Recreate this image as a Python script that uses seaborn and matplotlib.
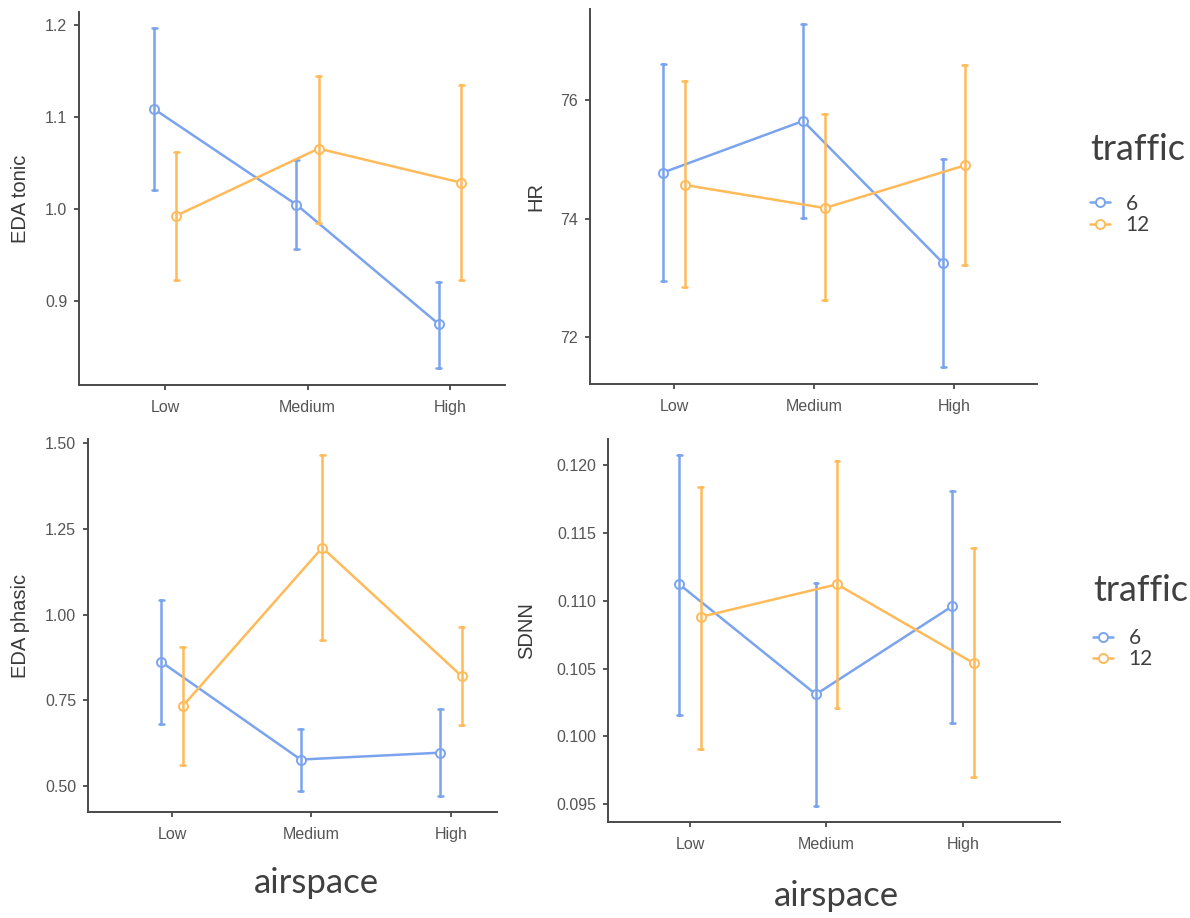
import numpy as np
import pandas as pd
import matplotlib
matplotlib.use("Agg")
import matplotlib.pyplot as plt
from matplotlib.lines import Line2D
from matplotlib.ticker import FormatStrFormatter
import seaborn as sns

# ---------------- data ----------------
airspace = ["Low", "Medium", "High"]
traffic = ["6", "12"]

eda_tonic_mean_6 = [1.109, 1.005, 0.875]
eda_tonic_lo_6 = [1.021, 0.957, 0.828]
eda_tonic_hi_6 = [1.197, 1.054, 0.921]
eda_tonic_mean_12 = [0.993, 1.066, 1.029]
eda_tonic_lo_12 = [0.923, 0.985, 0.923]
eda_tonic_hi_12 = [1.062, 1.145, 1.135]

hr_mean_6 = [74.78, 75.65, 73.25]
hr_lo_6 = [72.95, 74.02, 71.49]
hr_hi_6 = [76.61, 77.29, 75.01]
hr_mean_12 = [74.57, 74.18, 74.90]
hr_lo_12 = [72.85, 72.62, 73.22]
hr_hi_12 = [76.32, 75.77, 76.59]

eda_phasic_mean_6 = [0.862, 0.577, 0.597]
eda_phasic_lo_6 = [0.682, 0.486, 0.472]
eda_phasic_hi_6 = [1.042, 0.667, 0.724]
eda_phasic_mean_12 = [0.733, 1.195, 0.820]
eda_phasic_lo_12 = [0.562, 0.926, 0.677]
eda_phasic_hi_12 = [0.906, 1.466, 0.963]

sdnn_mean_6 = [0.1112, 0.1031, 0.1096]
sdnn_lo_6 = [0.1016, 0.0949, 0.1010]
sdnn_hi_6 = [0.1207, 0.1113, 0.1181]
sdnn_mean_12 = [0.1088, 0.1112, 0.1054]
sdnn_lo_12 = [0.0991, 0.1021, 0.0970]
sdnn_hi_12 = [0.1184, 0.1203, 0.1139]

ylabels = ["EDA tonic", "HR", "EDA phasic", "SDNN"]
yticks_list = [
    [0.9, 1.0, 1.1, 1.2],
    [72, 74, 76],
    [0.50, 0.75, 1.00, 1.25, 1.50],
    [0.095, 0.100, 0.105, 0.110, 0.115, 0.120],
]
ytick_fmt = ["%.1f", "%.0f", "%.2f", "%.3f"]

palette = {"6": "#7BA4EF", "12": "#FFBA59"}


def long_frame(m6, lo6, hi6, m12, lo12, hi12):
    rows = []
    for t, (m, lo, hi) in zip(traffic, [(m6, lo6, hi6), (m12, lo12, hi12)]):
        for i, a in enumerate(airspace):
            for v in (lo[i], m[i], hi[i]):
                rows.append({"airspace": a, "traffic": t, "value": v})
    return pd.DataFrame(rows)


frames = [
    long_frame(eda_tonic_mean_6, eda_tonic_lo_6, eda_tonic_hi_6,
               eda_tonic_mean_12, eda_tonic_lo_12, eda_tonic_hi_12),
    long_frame(hr_mean_6, hr_lo_6, hr_hi_6, hr_mean_12, hr_lo_12, hr_hi_12),
    long_frame(eda_phasic_mean_6, eda_phasic_lo_6, eda_phasic_hi_6,
               eda_phasic_mean_12, eda_phasic_lo_12, eda_phasic_hi_12),
    long_frame(sdnn_mean_6, sdnn_lo_6, sdnn_hi_6,
               sdnn_mean_12, sdnn_lo_12, sdnn_hi_12),
]

# ---------------- style ----------------
sns.set_theme(style="ticks")
plt.rcParams["font.family"] = ["Liberation Sans", "DejaVu Sans"]

W, H = 1190, 918
fig = plt.figure(figsize=(W / 100, H / 100), dpi=100)

# axes boxes in pixels: left, top, right, bottom
boxes = [
    (79, 12, 505, 385),
    (590, 9, 1037, 384),
    (88, 439, 497, 812),
    (608, 439, 1060, 822),
]
xlims = [(-0.604, 2.386), (-0.6, 2.593), (-0.602, 2.33), (-0.6, 2.71)]
ylims = [(0.809, 1.2145), (71.21, 77.54), (0.424, 1.512), (0.0937, 0.1219)]
labelpads = [10.5, 10.5, 10.5, 14.5]

axes = []
for k, (l, t, r, b) in enumerate(boxes):
    ax = fig.add_axes([l / W, 1 - b / H, (r - l) / W, (b - t) / H])
    sns.pointplot(
        data=frames[k], x="airspace", y="value", hue="traffic",
        order=airspace, hue_order=traffic, palette=palette,
        estimator="median", errorbar=("pi", 100),
        dodge=0.155, markers="o", capsize=0.035,
        linewidth=1.8, markersize=6.5, markeredgewidth=1.4,
        markerfacecolor="white", zorder=3,
        err_kws={"linewidth": 1.8}, legend=False, ax=ax,
    )
    ax.set_xlim(*xlims[k])
    ax.set_ylim(*ylims[k])
    ax.set_yticks(yticks_list[k])
    ax.yaxis.set_major_formatter(FormatStrFormatter(ytick_fmt[k]))
    ax.set_ylabel(ylabels[k], fontsize=14.5, color="#3a3a3a", labelpad=labelpads[k])
    ax.set_xlabel("")
    ax.tick_params(axis="both", labelsize=11.5, colors="#3a3a3a",
                   labelcolor="#555555", length=3.5, width=1.2)
    ax.tick_params(axis="x", pad=7)
    ax.tick_params(axis="y", pad=5)
    for s in ("left", "bottom"):
        ax.spines[s].set_color("#4a4a4a")
        ax.spines[s].set_linewidth(1.4)
    sns.despine(ax=ax)
    ax.set_facecolor("white")
    axes.append(ax)

# x axis titles for the bottom panels
for idx, (px, py) in zip([2, 3], [(316, 883), (836, 896)]):
    ax = axes[idx]
    l, t, r, b = boxes[idx]
    ax.set_xlabel("airspace", fontsize=25, color="#404040", family=["Lato", "DejaVu Sans"])
    ax.xaxis.label.set_va("center")
    ax.xaxis.set_label_coords((px - l) / (r - l), (b - py) / (b - t))

# legends
handles = [
    Line2D([], [], color=palette[t], marker="o", markerfacecolor="white",
           markeredgewidth=1.4, markersize=6.5, linewidth=1.8)
    for t in traffic
]
for ax, (lx, ly), sep in zip([axes[1], axes[3]], [(1090, 133), (1093, 574)], [20, 15]):
    leg = ax.legend(
        handles, traffic, title="traffic", loc="upper left",
        bbox_to_anchor=(lx / W, 1 - ly / H), bbox_transform=fig.transFigure,
        frameon=False, borderpad=0, borderaxespad=0, alignment="left",
        handlelength=0.95, handletextpad=0.75, labelspacing=0.05,
        prop={"family": ["Lato", "DejaVu Sans"], "size": 15},
        title_fontproperties={"family": ["Lato", "DejaVu Sans"], "size": 26},
    )
    for txt in leg.get_texts():
        txt.set_color("#404040")
    leg.get_title().set_color("#404040")
    leg._legend_box.sep = sep

fig.savefig("out.png", dpi=100, facecolor="white")
